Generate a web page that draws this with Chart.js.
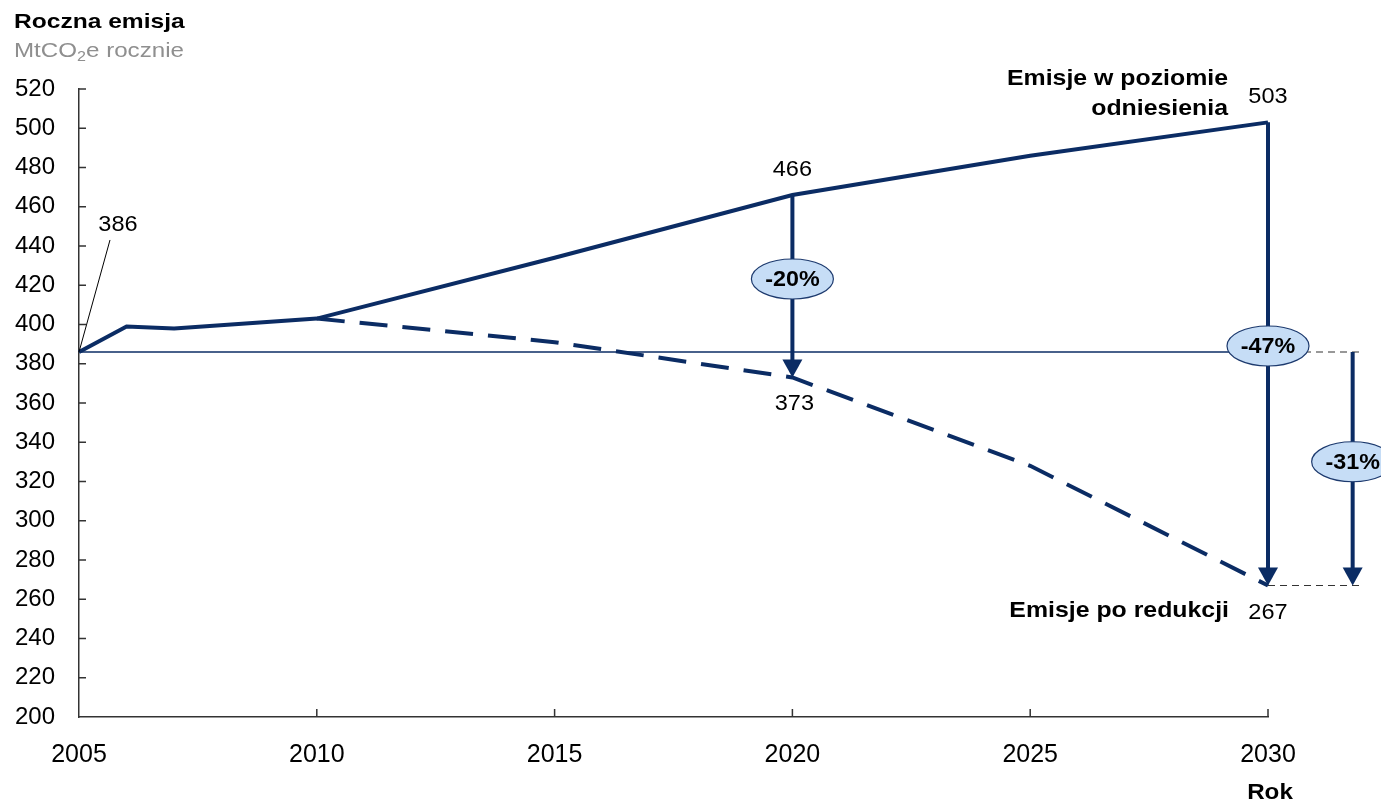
<!DOCTYPE html>
<html>
<head>
  <meta charset="utf-8">
  <title>Roczna emisja</title>
  <script src="https://cdn.jsdelivr.net/npm/chart.js"></script>
  <style>
    body { margin: 0; background: #fff; }
  </style>
</head>
<body>
<canvas id="chart" width="1381" height="804"></canvas>

<script>
  // data
  const years = [2005, 2006, 2007, 2010, 2015, 2020, 2025, 2030];
  const baseline = [386, 399, 398, 403, 434, 466, 486, 503];
  const reductionYears = [2010, 2015, 2020, 2025, 2030];
  const reduction = [403, 391, 373, 328, 267];
  const cutLabels = ['-20%', '-47%', '-31%'];

  const NAVY = '#0b2c64';
  const FONT = '"Liberation Sans", Arial, sans-serif';

  const startVal = baseline[0];
  const base2020 = baseline[years.indexOf(2020)];
  const red2020 = reduction[reductionYears.indexOf(2020)];
  const base2030 = baseline[baseline.length - 1];
  const red2030 = reduction[reduction.length - 1];

  // text in the original is a bit wider than Arial, so stretch it a little
  function label(ctx, text, x, y, opts) {
    opts = opts || {};
    ctx.save();
    ctx.fillStyle = opts.color || '#000';
    ctx.font = (opts.bold ? 'bold ' : '') + (opts.size || 22) + 'px ' + FONT;
    ctx.textAlign = opts.align || 'center';
    ctx.textBaseline = opts.baseline || 'middle';
    ctx.translate(x, y);
    ctx.scale(opts.sx || 1.07, 1);
    ctx.fillText(text, 0, 0);
    ctx.restore();
  }

  function arrow(ctx, x, y1, y2) {
    const head = 18;
    ctx.save();
    ctx.strokeStyle = NAVY;
    ctx.fillStyle = NAVY;
    ctx.lineWidth = 4;
    ctx.beginPath();
    ctx.moveTo(x, y1);
    ctx.lineTo(x, y2 - head + 2);
    ctx.stroke();
    ctx.beginPath();
    ctx.moveTo(x - 10, y2 - head);
    ctx.lineTo(x + 10, y2 - head);
    ctx.lineTo(x, y2);
    ctx.closePath();
    ctx.fill();
    ctx.restore();
  }

  function bubble(ctx, x, y, text) {
    ctx.save();
    ctx.beginPath();
    ctx.ellipse(x, y, 41, 20, 0, 0, Math.PI * 2);
    ctx.fillStyle = '#c6ddf6';
    ctx.fill();
    ctx.lineWidth = 1.2;
    ctx.strokeStyle = '#1d3a6e';
    ctx.stroke();
    ctx.restore();
    label(ctx, text, x, y + 1, {bold: true, sx: 1.06});
  }

  const annotations = {
    id: 'annotations',
    beforeDatasetsDraw(chart) {
      const {ctx, scales: {x, y}} = chart;
      // thin reference line at the 2005 level
      ctx.save();
      ctx.strokeStyle = NAVY;
      ctx.lineWidth = 1.5;
      ctx.beginPath();
      ctx.moveTo(x.getPixelForValue(2005), y.getPixelForValue(startVal));
      ctx.lineTo(x.getPixelForValue(2030), y.getPixelForValue(startVal));
      ctx.stroke();
      // dashed guides on the right
      ctx.strokeStyle = '#333';
      ctx.lineWidth = 1.2;
      ctx.setLineDash([7, 5]);
      ctx.beginPath();
      ctx.moveTo(x.getPixelForValue(2030), y.getPixelForValue(startVal));
      ctx.lineTo(x.getPixelForValue(2032), y.getPixelForValue(startVal));
      ctx.moveTo(x.getPixelForValue(2030), y.getPixelForValue(red2030));
      ctx.lineTo(x.getPixelForValue(2032), y.getPixelForValue(red2030));
      ctx.stroke();
      ctx.restore();
    },
    afterDatasetsDraw(chart) {
      const {ctx, scales: {x, y}} = chart;
      const x20 = x.getPixelForValue(2020);
      const x30 = x.getPixelForValue(2030);
      const xR = x.getPixelForValue(2031.78);

      arrow(ctx, x20, y.getPixelForValue(base2020), y.getPixelForValue(red2020));
      arrow(ctx, x30, y.getPixelForValue(base2030), y.getPixelForValue(red2030));
      arrow(ctx, xR, y.getPixelForValue(startVal), y.getPixelForValue(red2030));

      bubble(ctx, x20, y.getPixelForValue(base2020) + 84, cutLabels[0]);
      bubble(ctx, x30, y.getPixelForValue(startVal) - 6, cutLabels[1]);
      bubble(ctx, xR, (y.getPixelForValue(startVal) + y.getPixelForValue(red2030)) / 2 - 7, cutLabels[2]);

      // leader for the first value
      ctx.save();
      ctx.strokeStyle = '#000';
      ctx.lineWidth = 1;
      ctx.beginPath();
      ctx.moveTo(x.getPixelForValue(2005), y.getPixelForValue(startVal));
      ctx.lineTo(x.getPixelForValue(2005) + 31, y.getPixelForValue(startVal) - 112);
      ctx.stroke();
      ctx.restore();

      label(ctx, String(startVal), x.getPixelForValue(2005) + 39, y.getPixelForValue(startVal) - 127);
      label(ctx, String(base2020), x20, y.getPixelForValue(base2020) - 25);
      label(ctx, String(red2020), x20 + 2, y.getPixelForValue(red2020) + 26);
      label(ctx, String(base2030), x30, y.getPixelForValue(base2030) - 25);
      label(ctx, String(red2030), x30, y.getPixelForValue(red2030) + 27);

      label(ctx, 'Emisje w poziomie', 1228, 79, {bold: true, align: 'right', sx: 1.13});
      label(ctx, 'odniesienia', 1228, 109, {bold: true, align: 'right', sx: 1.13});
      label(ctx, 'Emisje po redukcji', 1229, 611, {bold: true, align: 'right', sx: 1.13});
      label(ctx, 'Rok', x30 + 2, 793, {bold: true, sx: 1.1});

      // title block
      label(ctx, 'Roczna emisja', 14, 28, {bold: true, size: 21, align: 'left', baseline: 'alphabetic', sx: 1.17});
      ctx.save();
      ctx.font = '21px ' + FONT;
      const sx = 1.15;
      const w1 = ctx.measureText('MtCO').width * sx;
      ctx.font = '14px ' + FONT;
      const w2 = ctx.measureText('2').width * sx;
      ctx.restore();
      label(ctx, 'MtCO', 14, 57, {size: 21, align: 'left', baseline: 'alphabetic', color: '#8f8f8f', sx});
      label(ctx, '2', 14 + w1, 61, {size: 14, align: 'left', baseline: 'alphabetic', color: '#8f8f8f', sx});
      label(ctx, 'e rocznie', 14 + w1 + w2, 57, {size: 21, align: 'left', baseline: 'alphabetic', color: '#8f8f8f', sx});

      // inward tick marks
      ctx.save();
      ctx.strokeStyle = '#333';
      ctx.lineWidth = 1.5;
      ctx.beginPath();
      for (let v = 2010; v <= 2030; v += 5) {
        const px = x.getPixelForValue(v);
        ctx.moveTo(px, y.bottom);
        ctx.lineTo(px, y.bottom - 8);
      }
      for (let v = 220; v <= 520; v += 20) {
        const py = y.getPixelForValue(v);
        ctx.moveTo(x.left, py);
        ctx.lineTo(x.left + 7, py);
      }
      ctx.stroke();
      ctx.restore();
    }
  };

  new Chart(document.getElementById('chart').getContext('2d'), {
    type: 'line',
    data: {
      datasets: [
        {
          label: 'Emisje w poziomie odniesienia',
          data: years.map((yr, i) => ({x: yr, y: baseline[i]})),
          borderColor: NAVY,
          borderWidth: 4,
          pointRadius: 0,
          tension: 0,
          clip: false
        },
        {
          label: 'Emisje po redukcji',
          data: reductionYears.map((yr, i) => ({x: yr, y: reduction[i]})),
          borderColor: NAVY,
          borderWidth: 4,
          borderDash: [28, 15],
          pointRadius: 0,
          tension: 0,
          clip: false
        }
      ]
    },
    options: {
      responsive: false,
      animation: false,
      layout: { padding: { top: 89, right: 113, bottom: 0, left: 0 } },
      plugins: { legend: { display: false }, tooltip: { enabled: false } },
      scales: {
        x: {
          type: 'linear', min: 2005, max: 2030,
          grid: { display: false, drawTicks: false },
          border: { display: true, color: '#333', width: 1.5 },
          ticks: { stepSize: 5, padding: 23, color: '#000', font: { family: FONT, size: 25 }, maxRotation: 0,
                   callback: v => String(v) },
          afterFit: s => { s.height = 87; }
        },
        y: {
          min: 200, max: 520,
          grid: { display: false, drawTicks: false },
          border: { display: true, color: '#333', width: 1.5 },
          ticks: { stepSize: 20, padding: 24, color: '#000', font: { family: FONT, size: 24 } },
          afterFit: s => { s.width = 79; }
        }
      }
    },
    plugins: [annotations]
  });
</script>
</body>
</html>
